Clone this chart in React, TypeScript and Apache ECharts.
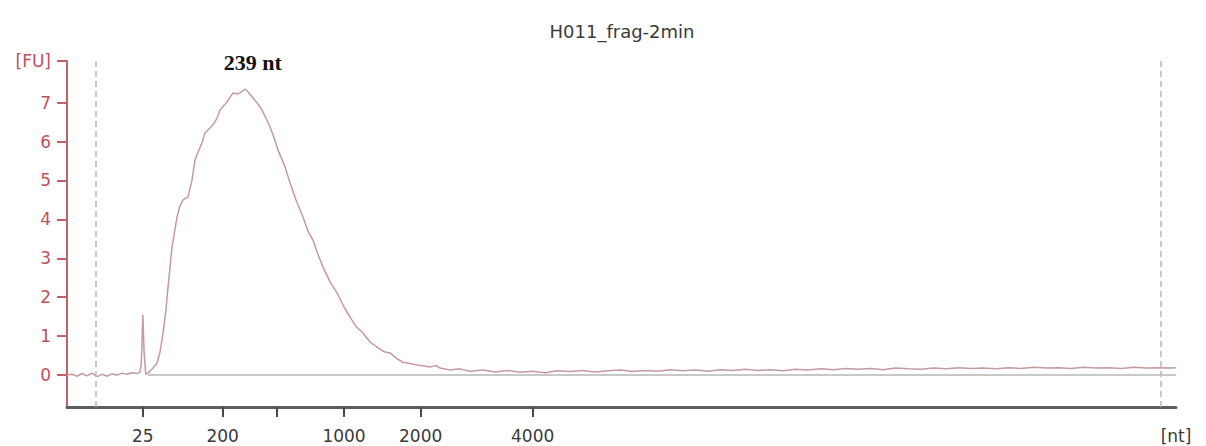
import React, { useEffect, useRef } from "react";
import * as echarts from "echarts";

// Migration position (arbitrary time units, 0..100) and fluorescence [FU]
const migration: number[] = [
  0.0, 0.45, 0.9, 1.35, 1.8, 2.25, 2.71, 3.16, 3.61, 4.06, 4.51, 4.96, 5.41, 5.86, 6.31, 6.58, 6.7, 6.84, 6.95, 7.1,
  7.3, 7.66, 8.12, 8.39, 8.66, 8.93, 9.11, 9.47, 9.92, 10.19, 10.46, 10.91, 11.27, 11.54, 12.17, 12.44, 13.17, 13.53,
  13.8, 14.43, 14.97, 15.33, 15.6, 16.05, 16.32, 16.77, 17.13, 17.58, 17.94, 18.3, 18.67, 19.03, 19.66, 20.11, 20.65,
  21.28, 21.73, 22.18, 22.63, 23.08, 23.71, 24.35, 24.89, 25.52, 26.06, 26.69, 27.32, 27.95, 28.58, 29.13, 29.76,
  30.3, 30.93, 31.56, 32.1, 32.73, 33.27, 33.63, 34.54, 35.44, 36.34, 37.5, 38.6, 39.7, 40.9, 42.0, 43.1, 44.2, 45.4,
  46.5, 47.6, 48.8, 49.9, 51.0, 52.1, 53.3, 54.4, 55.5, 56.7, 57.8, 58.9, 60.0, 61.2, 62.3, 63.4, 64.6, 65.7, 66.8,
  68.0, 69.1, 70.2, 71.3, 72.5, 73.6, 74.7, 75.9, 77.0, 78.1, 79.3, 80.4, 81.5, 82.6, 83.8, 84.9, 86.0, 87.2, 88.3,
  89.4, 90.5, 91.7, 92.8, 93.9, 95.1, 96.2, 97.3, 98.4, 99.6, 100.0,
];
const fluorescence: number[] = [
  0.0, 0.02, -0.03, 0.04, -0.02, 0.05, -0.04, 0.02, -0.03, 0.03, 0.0, 0.05, 0.02, 0.06, 0.04, 0.07, 0.3, 1.55, 0.6, 0.02,
  0.05, 0.15, 0.31, 0.6, 1.08, 1.7, 2.26, 3.29, 4.06, 4.35, 4.5, 4.58, 5.01, 5.53, 5.97, 6.22, 6.43, 6.6,
  6.81, 7.02, 7.25, 7.22, 7.25, 7.35, 7.28, 7.12, 7.0, 6.81, 6.6, 6.38, 6.1, 5.78, 5.35, 4.94, 4.5,
  4.06, 3.7, 3.47, 3.1, 2.78, 2.4, 2.11, 1.8, 1.49, 1.25, 1.08, 0.85, 0.72, 0.6, 0.57, 0.42,
  0.33, 0.3, 0.26, 0.24, 0.21, 0.25, 0.18, 0.13, 0.16, 0.1, 0.13, 0.08, 0.12, 0.07, 0.1, 0.06, 0.11, 0.09,
  0.12, 0.08, 0.11, 0.13, 0.09, 0.12, 0.1, 0.14, 0.11, 0.13, 0.1, 0.14, 0.12, 0.15, 0.12, 0.14, 0.11, 0.15, 0.13,
  0.16, 0.14, 0.17, 0.15, 0.17, 0.14, 0.18, 0.16, 0.15, 0.18, 0.16, 0.19, 0.17, 0.18, 0.16, 0.19, 0.17, 0.2, 0.18,
  0.19, 0.17, 0.2, 0.18, 0.19, 0.17, 0.2, 0.18, 0.19, 0.18, 0.19,
];

// Baseline (zero) line extent
const baselineMigration: number[] = [7.3, 100];
const baselineValue: number[] = [0, 0];

// Size ladder ticks
const sizeLabels: string[] = ["25", "200", "", "1000", "2000", "4000"];
const sizePositions: number[] = [6.83, 14.04, 18.91, 24.98, 31.89, 41.99];
const xUnitLabel = "[nt]";
const xMax = 100;

// Marker lines (lower / upper markers)
const markerPositions: number[] = [2.59, 98.65];

// Y axis
const yTicks: number[] = [0, 1, 2, 3, 4, 5, 6, 7];
const yMin = -0.82;
const yMax = 8.07;
const yUnitLabel = "[FU]";

const peakLabel = "239 nt";
const peakMigration = 16.75;
const peakValue = 7.35;
const title = "H011_frag-2min";

export default function App() {
  const ref = useRef<HTMLDivElement>(null);
  useEffect(() => {
    if (!ref.current) return;
    const chart = echarts.init(ref.current, null, { renderer: "svg" });
    const labelPositions = sizePositions.filter((_, i) => sizeLabels[i] !== "").concat([xMax]);
    chart.setOption({
      animation: false,
      backgroundColor: "#ffffff",
      title: {
        text: title,
        left: 617,
        top: 17,
        textAlign: "center",
        textStyle: { fontFamily: "DejaVu Sans", fontSize: 18, fontWeight: "normal", color: "#3a3a3a" },
      },
      grid: { left: 67, right: 30, top: 61, bottom: 39 },
      xAxis: {
        type: "value",
        min: 0,
        max: xMax,
        splitLine: { show: false },
        axisLine: { show: true, onZero: false, lineStyle: { color: "#5e5e5e", width: 3 } },
        axisTick: { show: true, customValues: sizePositions, length: 10, lineStyle: { color: "#4a4a4a", width: 2 } },
        axisLabel: {
          customValues: labelPositions,
          margin: 20,
          fontFamily: "DejaVu Sans",
          fontSize: 17,
          color: "#3a3a3a",
          formatter: (v: number) => {
            if (Math.abs(v - xMax) < 0.01) return xUnitLabel;
            const i = sizePositions.findIndex((p) => Math.abs(p - v) < 0.01);
            return i >= 0 ? sizeLabels[i] : "";
          },
        },
      },
      yAxis: {
        type: "value",
        min: yMin,
        max: yMax,
        splitLine: { show: false },
        axisLine: { show: true, onZero: false, lineStyle: { color: "#c2606c", width: 2 } },
        axisTick: { show: true, customValues: yTicks.concat([yMax]), length: 10, lineStyle: { color: "#c2606c", width: 2 } },
        axisLabel: {
          customValues: yTicks.concat([yMax]),
          margin: 16,
          fontFamily: "DejaVu Sans",
          fontSize: 17,
          color: "#c04f5e",
          formatter: (v: number) => (v > 7.5 ? yUnitLabel : String(v)),
        },
      },
      series: [
        {
          type: "line",
          data: baselineMigration.map((m, i) => [m, baselineValue[i]]),
          symbol: "none",
          lineStyle: { color: "#c8c8c8", width: 2 },
          z: 1,
          markLine: {
            silent: true,
            symbol: "none",
            label: { show: false },
            lineStyle: { color: "#b8b8b8", type: [6, 4], width: 1.5 },
            data: markerPositions.map((x) => ({ xAxis: x })),
          },
        },
        {
          type: "line",
          data: migration.map((m, i) => [m, fluorescence[i]]),
          symbol: "none",
          lineStyle: { color: "#c49aa0", width: 1.5 },
          z: 2,
          markPoint: {
            symbol: "circle",
            symbolSize: 0,
            data: [{ coord: [peakMigration, peakValue] }],
            label: {
              show: true,
              formatter: peakLabel,
              offset: [0, -27],
              fontFamily: "Liberation Serif",
              fontWeight: "bold",
              fontSize: 22,
              color: "#111111",
            },
          },
        },
      ],
    });
    return () => chart.dispose();
  }, []);
  return <div ref={ref} style={{ position: "absolute", left: 0, top: 0, width: 1206, height: 446 }} />;
}
